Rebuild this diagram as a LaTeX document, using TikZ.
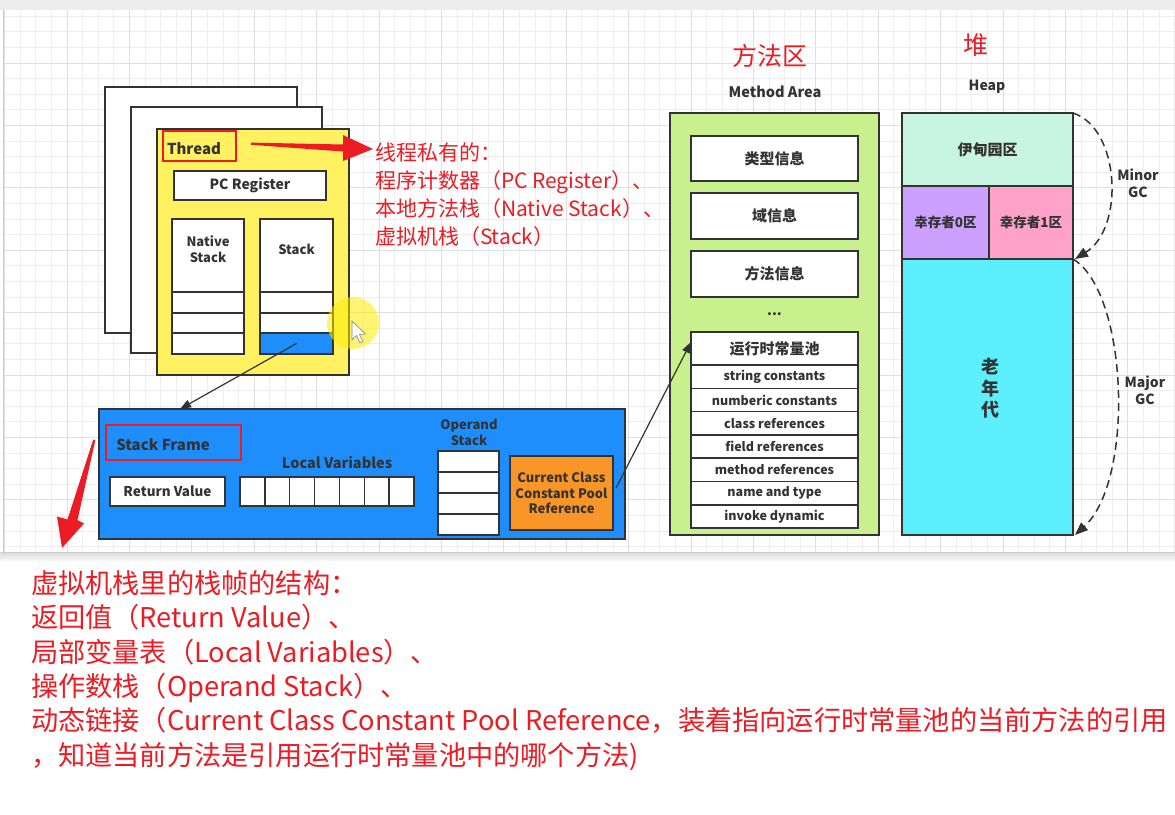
\documentclass[tikz,border=0pt]{standalone}
\usepackage{fontspec}
\setmainfont{Noto Sans CJK SC}
\usetikzlibrary{arrows.meta}
\definecolor{ink}{RGB}{51,51,51}
\definecolor{redt}{RGB}{235,28,36}
\definecolor{yel}{RGB}{255,241,95}
\definecolor{sfblue}{RGB}{30,142,252}
\definecolor{orng}{RGB}{250,150,40}
\definecolor{mgreen}{RGB}{200,240,140}
\definecolor{eden}{RGB}{200,245,225}
\definecolor{survA}{RGB}{204,160,255}
\definecolor{survB}{RGB}{255,162,200}
\definecolor{oldgen}{RGB}{92,240,255}
\definecolor{gridmin}{RGB}{238,238,238}
\definecolor{gridmaj}{RGB}{224,224,224}
\begin{document}
\begin{tikzpicture}[x=1pt,y=-1pt,
  every node/.style={inner sep=0pt,outer sep=0pt},
  box/.style={draw=ink,line width=1.5pt,fill=white},
  lbl/.style={font=\bfseries\fontsize{#1pt}{\dimexpr#1pt*6/5\relax}\selectfont,text=ink,align=center},
  lbl/.default=13,
  redbox/.style={draw=redt,line width=1.8pt},
  redline/.style={text=redt,anchor=base west,font=\fontsize{#1pt}{#1pt}\selectfont},
  arr/.style={draw=ink,line width=1.2pt,-{Triangle[length=11pt,width=8pt]}},
  gcarrow/.style={draw=ink,line width=1.5pt,dash pattern=on 8pt off 5pt,-{Triangle[length=13pt,width=10pt]}},
  gridline/.style={draw=gridmin,line width=0.8pt},
  gridmajor/.style={draw=gridmaj,line width=0.9pt},
]
\useasboundingbox (0,0) rectangle (1175,814);
\fill[white] (0,0) rectangle (1175,814);
% top band and canvas
\fill[gray!14] (0,0) rectangle (1175,10);
\shade[top color=gray!30,bottom color=white] (0,552) rectangle (1175,562);
\begin{scope}
  \clip (3,10) rectangle (1175,552);
  \fill[white] (3,10) rectangle (1175,552);
  \foreach \k in {0,...,76}{ \draw[gridline] ({4.6+15.6*\k},10) -- ({4.6+15.6*\k},552); }
  \foreach \k in {1,...,36}{ \draw[gridline] (3,{0.6+15.6*\k}) -- (1175,{0.6+15.6*\k}); }
  \foreach \k in {0,...,19}{ \draw[gridmajor] ({4.6+62.4*\k},10) -- ({4.6+62.4*\k},552); }
  \foreach \k in {1,...,9}{ \draw[gridmajor] (3,{0.6+62.4*\k}) -- (1175,{0.6+62.4*\k}); }
\end{scope}
\draw[gray!40,line width=0.6pt] (3,10) -- (3,552) -- (1175,552);

% ---------- Thread ----------
\node[box,minimum width=192pt,minimum height=246pt] (back1) at (201,210) {};
\node[box,minimum width=191pt,minimum height=246pt] (back2) at (226.5,230) {};
\node[box,fill=yel,minimum width=192pt,minimum height=246pt] (thread) at (253,252) {};
\node[redbox,minimum width=73pt,minimum height=30pt] (threadbox) at (199.5,146) {};
\node[lbl=15] (threadtxt) at (194,148.5) {Thread};
\node[box,minimum width=152pt,minimum height=29pt,lbl=14] (pc) at (250,185.5) {PC Register};
\node[box,minimum width=72pt,minimum height=135pt] (native) at (208,286.5) {};
\node[lbl=13] (nativetxt) at (208,249) {Native\\Stack};
\node[box,minimum width=72pt,minimum height=21pt] (nat2) at (208,302.5) {};
\node[box,minimum width=72pt,minimum height=20pt] (nat3) at (208,323) {};
\node[box,minimum width=72pt,minimum height=21pt] (nat4) at (208,343.5) {};
\node[box,minimum width=73pt,minimum height=135pt] (stack) at (296.5,286.5) {};
\node[lbl=13] (stacktxt) at (296.5,249.5) {Stack};
\node[box,minimum width=73pt,minimum height=21pt] (stk2) at (296.5,302.5) {};
\node[box,minimum width=73pt,minimum height=20pt] (stk3) at (296.5,323) {};
\node[box,fill=sfblue,minimum width=73pt,minimum height=21pt] (stk4) at (296.5,343.5) {};

% ---------- Stack Frame ----------
\node[box,fill=sfblue,minimum width=526pt,minimum height=130pt] (sf) at (362,474) {};
\node[redbox,minimum width=135pt,minimum height=35pt] (sfbox) at (173.5,442.5) {};
\node[lbl=15] (sftxt) at (163,444.5) {Stack Frame};
\node[box,minimum width=115pt,minimum height=29pt,lbl=13.5] (ret) at (167.5,491.5) {Return Value};
\node[lbl=14.5] (lvtxt) at (337,463) {Local Variables};
\foreach \i in {1,...,7}{
  \node[box,minimum width=24.86pt,minimum height=29pt] (lv\i) at ({240+24.86*(\i-0.5)},491.5) {};
}
\node[lbl=13] (ostxt) at (469,432.5) {Operand\\Stack};
\foreach \i in {1,...,4}{
  \node[box,minimum width=61pt,minimum height=21pt] (os\i) at (468.5,{451+21*(\i-0.5)}) {};
}
\node[box,fill=orng,minimum width=103pt,minimum height=74pt,lbl=13] (cp) at (561.5,493) {Current Class\\Constant Pool\\Reference};

% ---------- Method Area ----------
\node[text=redt,font=\fontsize{25pt}{25pt}\selectfont] (matitle) at (770,56) {方法区};
\node[lbl=14.5] (matxt) at (775,92) {Method Area};
\node[box,fill=mgreen,minimum width=209pt,minimum height=422pt] (ma) at (774.5,324) {};
\node[box,minimum width=167pt,minimum height=45pt,lbl=15] (type) at (774.5,158.5) {类型信息};
\node[box,minimum width=167pt,minimum height=46pt,lbl=15] (field) at (774.5,216) {域信息};
\node[box,minimum width=167pt,minimum height=46pt,lbl=15] (meth) at (774.5,274) {方法信息};
\node[lbl=14] (dots) at (774.5,314) {...};
\node[box,minimum width=167pt,minimum height=33pt,lbl=15] (pool) at (774.5,348.5) {运行时常量池};
\foreach \t [count=\i] in {string constants,numberic constants,class references,field references,method references,name and type,invoke dynamic}{
  \node[box,minimum width=167pt,minimum height=23.3pt,lbl=12.5] (p\i) at (774.5,{365+23.3*(\i-0.5)}) {\t};
}

% ---------- Heap ----------
\node[text=redt,font=\fontsize{25pt}{25pt}\selectfont] (heaptitle) at (976,45) {堆};
\node[lbl=14] (heaptxt) at (987,87) {Heap};
\node[box,fill=eden,minimum width=171pt,minimum height=73pt,lbl=15] (eden) at (987.5,149.5) {伊甸园区};
\node[box,fill=survA,minimum width=87pt,minimum height=73pt,lbl=13.5] (s0) at (945.5,222.5) {幸存者0区};
\node[box,fill=survB,minimum width=84pt,minimum height=73pt,lbl=13.5] (s1) at (1031,222.5) {幸存者1区};
\node[box,fill=oldgen,minimum width=171pt,minimum height=276pt] (old) at (987.5,397) {};
\node[lbl=18] (oldtxt) at (990,388.5) {老\\年\\代};
\draw[gcarrow] (eden.north east) .. controls (1120,128) and (1125,228) .. ([xshift=2pt]old.north east);
\draw[gcarrow] (old.north east) .. controls (1128,292) and (1135,480) .. ([xshift=2pt]old.south east);
\node[lbl=14] (minor) at (1138,183.5) {Minor\\GC};
\node[lbl=14] (major) at (1145,390) {Major\\GC};

% ---------- connectors ----------
\draw[arr] (stk4.center) -- ([xshift=81pt]sf.north west);
\draw[arr] ([xshift=3pt,yshift=5pt]cp.east) -- ([yshift=-10pt]pool.north west);

% red tapered arrows
\fill[redt] (251,142.6) -- (343,144.5) -- (343,135) -- (373,149) -- (343,161) -- (343,151.5) -- (251,144.8) -- cycle;
\fill[redt] (93.3,439.5) -- (95.3,440.3) -- (77.5,520) -- (84,523.5) -- (62,548) -- (57,516.5) -- (67.5,519.5) -- cycle;

% red annotations
\node[redline=21] (r1) at (375,160) {线程私有的：};
\node[redline=21] (r2) at (375,188) {程序计数器（PC Register）、};
\node[redline=21] (r3) at (375,216) {本地方法栈（Native Stack）、};
\node[redline=21] (r4) at (375,244) {虚拟机栈（Stack）};

\node[redline=27.2] (b1) at (31,593) {虚拟机栈里的栈帧的结构：};
\node[redline=27.2] (b2) at (31,627.5) {返回值（Return Value）、};
\node[redline=27.2] (b3) at (31,662) {局部变量表（Local Variables）、};
\node[redline=27.2] (b4) at (31,696) {操作数栈（Operand Stack）、};
\node[redline=27.2] (b5) at (31,730.5) {动态链接（Current Class Constant Pool Reference，装着指向运行时常量池的当前方法的引用};
\node[redline=27.2] (b6) at (31,765) {，知道当前方法是引用运行时常量池中的哪个方法)};

% cursor highlight
\fill[yellow!95!orange,opacity=0.55] (353,323) circle (26pt);
\filldraw[fill=white,draw=gray,line width=0.6pt] (352,321) -- (352,340) -- (356.5,335.5) -- (360,343) -- (363,341.5) -- (359.5,334.5) -- (365.5,334) -- cycle;
\end{tikzpicture}
\end{document}
